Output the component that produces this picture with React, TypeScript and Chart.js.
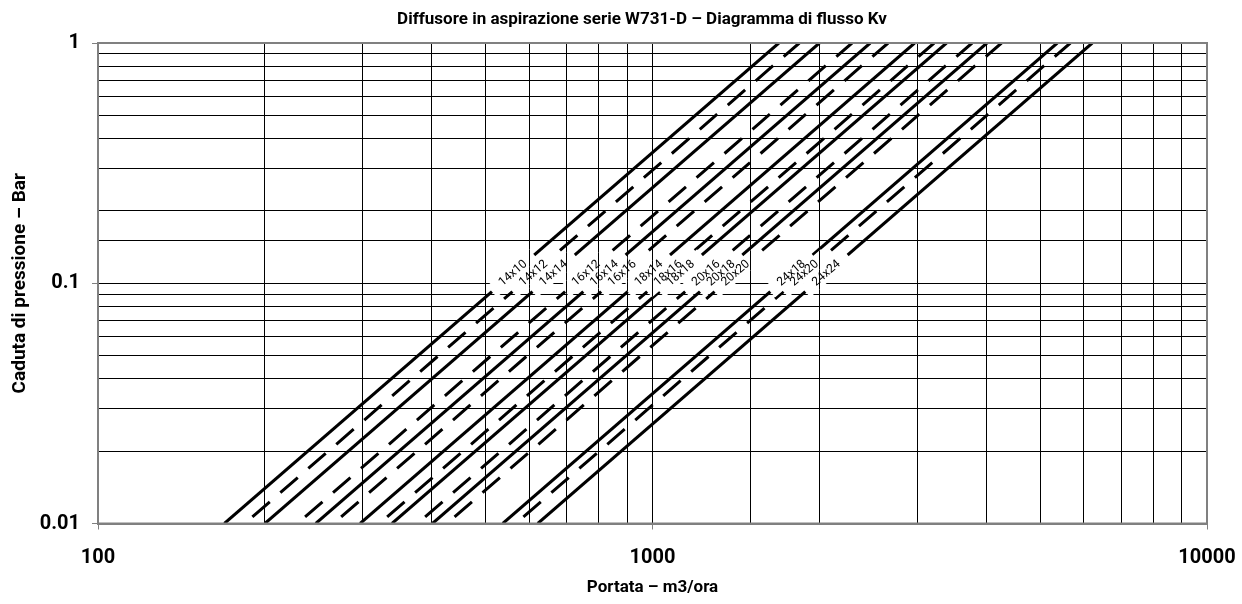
import React, { useEffect, useRef } from 'react';
import { Chart, registerables } from 'chart.js';

Chart.register(...registerables);

// ---- data ----
const seriesLabels = [
  '14x10', '14x12', '14x14', '16x12', '16x14', '16x16', '18x14', '18x16',
  '18x18', '20x16', '20x18', '20x20', '24x18', '24x20', '24x24',
];
// flow (m3/ora) where each line crosses 0.01 bar
const flowAtLowPressure = [169, 184, 200, 229, 247, 266, 297, 322, 339, 377, 401, 426, 537, 567, 621];
// flow (m3/ora) where each line crosses 1 bar
const flowAtHighPressure = [1690, 1840, 2000, 2290, 2470, 2660, 2970, 3220, 3390, 3770, 4010, 4260, 5370, 5670, 6210];
const pressureEnds = [0.01, 1];
const dashedSeries = [false, true, false, true, false, true, false, true, false, true, false, true, false, true, false];
const labelPressure = 0.11;
const flowRange = [100, 10000];
const pressureRange = [0.01, 1];

const chartTitle = 'Diffusore in aspirazione serie W731-D \u2013 Diagramma di flusso Kv';
const xTitle = 'Portata \u2013 m3/ora';
const yTitle = 'Caduta di pressione \u2013 Bar';

const FONT = 'Roboto';

const isDecade = (v: number) => {
  const l = Math.log10(v);
  return Math.abs(l - Math.round(l)) < 1e-6;
};
const fmt = (v: number) => {
  const l = Math.round(Math.log10(v));
  return l >= 0 ? String(Math.round(Math.pow(10, l))) : Math.pow(10, l).toFixed(-l);
};
const align = (p: number) => Math.round(p - 0.5) + 0.5;

const labelPlugin = {
  id: 'lineLabels',
  afterDatasetsDraw(chart: any) {
    const { ctx, chartArea } = chart;
    const xs = chart.scales.x;
    const ys = chart.scales.y;
    const yPix = ys.getPixelForValue(labelPressure);
    const items = chart.data.datasets.map((ds: any, i: number) => {
      const pts = chart.getDatasetMeta(i).data;
      const a = pts[0];
      const b = pts[1];
      const t = (yPix - a.y) / (b.y - a.y);
      return {
        cx: a.x + t * (b.x - a.x),
        cy: yPix,
        ang: Math.atan2(b.y - a.y, b.x - a.x),
        text: ds.label,
      };
    });
    const L = 56;
    const H = 15;
    ctx.save();
    ctx.beginPath();
    ctx.rect(chartArea.left, chartArea.top, chartArea.width, chartArea.height);
    ctx.clip();
    items.forEach((it: any) => {
      ctx.save();
      ctx.translate(it.cx, it.cy);
      ctx.rotate(it.ang);
      ctx.beginPath();
      ctx.rect(-L / 2, -H / 2, L, H);
      ctx.fillStyle = '#ffffff';
      ctx.fill();
      ctx.clip();
      ctx.setTransform(1, 0, 0, 1, 0, 0);
      ctx.beginPath();
      xs.ticks.forEach((tk: any) => {
        const px = align(xs.getPixelForValue(tk.value));
        ctx.moveTo(px, chartArea.top);
        ctx.lineTo(px, chartArea.bottom);
      });
      ctx.strokeStyle = '#000000';
      ctx.lineWidth = 1;
      ctx.stroke();
      ctx.restore();
    });
    items.forEach((it: any) => {
      ctx.save();
      ctx.translate(it.cx, it.cy);
      ctx.rotate(it.ang);
      ctx.fillStyle = '#000000';
      ctx.font = `12px ${FONT}`;
      ctx.textAlign = 'center';
      ctx.textBaseline = 'middle';
      ctx.fillText(it.text, 0, 0);
      ctx.restore();
    });
    ctx.restore();
  },
};

const framePlugin = {
  id: 'frameAndTitle',
  afterDraw(chart: any) {
    const { ctx, chartArea } = chart;
    ctx.save();
    ctx.strokeStyle = '#808080';
    ctx.lineWidth = 2;
    ctx.strokeRect(chartArea.left, chartArea.top, chartArea.width, chartArea.height);
    ctx.fillStyle = '#000000';
    ctx.font = `bold 17px ${FONT}`;
    ctx.textAlign = 'center';
    ctx.textBaseline = 'middle';
    ctx.fillText(chartTitle, 642, 20);
    ctx.restore();
  },
};

export default function App() {
  const ref = useRef<HTMLCanvasElement | null>(null);

  useEffect(() => {
    if (!ref.current) return;
    const datasets = seriesLabels.map((label, i) => ({
      label,
      data: [
        { x: flowAtLowPressure[i], y: pressureEnds[0] },
        { x: flowAtHighPressure[i], y: pressureEnds[1] },
      ],
      showLine: true,
      borderColor: '#000000',
      backgroundColor: '#000000',
      borderWidth: 3,
      borderDash: dashedSeries[i] ? [23, 14] : [],
      borderDashOffset: dashedSeries[i] ? 27 : 0,
      pointRadius: 0,
      pointHoverRadius: 0,
    }));

    const chart = new Chart(ref.current, {
      type: 'scatter',
      data: { datasets },
      options: {
        animation: false,
        responsive: false,
        maintainAspectRatio: false,
        layout: { padding: { top: 43, right: 35, bottom: 0, left: 0 } },
        plugins: {
          legend: { display: false },
          tooltip: { enabled: false },
          title: { display: false },
        },
        scales: {
          x: {
            type: 'logarithmic',
            min: flowRange[0],
            max: flowRange[1],
            afterFit: (s: any) => {
              s.height = 80.5;
              s.paddingLeft = 0;
              s.paddingRight = 0;
            },
            border: { display: true, color: '#808080', width: 2 },
            grid: {
              color: '#000000',
              lineWidth: 1,
              tickLength: 6,
              tickColor: (c: any) => (c.tick && isDecade(c.tick.value) ? '#808080' : 'rgba(0,0,0,0)'),
            },
            ticks: {
              autoSkip: false,
              maxRotation: 0,
              padding: 16,
              color: '#000000',
              font: { family: FONT, size: 20, weight: 'bold' },
              callback: (v: any) => (isDecade(Number(v)) ? fmt(Number(v)) : ''),
            },
            title: {
              display: true,
              text: xTitle,
              color: '#000000',
              font: { family: FONT, size: 17, weight: 'bold' },
              padding: { top: 0, bottom: 6 },
            },
          },
          y: {
            type: 'logarithmic',
            min: pressureRange[0],
            max: pressureRange[1],
            afterFit: (s: any) => {
              s.width = 98;
              s.paddingTop = 0;
              s.paddingBottom = 0;
            },
            border: { display: true, color: '#808080', width: 2 },
            grid: {
              color: '#000000',
              lineWidth: 1,
              tickLength: 6,
              tickColor: (c: any) => (c.tick && isDecade(c.tick.value) ? '#808080' : 'rgba(0,0,0,0)'),
            },
            ticks: {
              autoSkip: false,
              padding: 12,
              color: '#000000',
              font: { family: FONT, size: 20, weight: 'bold' },
              callback: (v: any) => (isDecade(Number(v)) ? fmt(Number(v)) : ''),
            },
            title: {
              display: true,
              text: yTitle,
              color: '#000000',
              font: { family: FONT, size: 19, weight: 'bold' },
              padding: { top: 9, bottom: 0 },
            },
          },
        },
      },
      plugins: [labelPlugin, framePlugin],
    } as any);

    return () => chart.destroy();
  }, []);

  return (
    <div style={{ position: 'fixed', left: 0, top: 0, width: 1242, height: 604, background: '#ffffff' }}>
      <canvas ref={ref} width={1242} height={604} style={{ display: 'block' }} />
    </div>
  );
}
